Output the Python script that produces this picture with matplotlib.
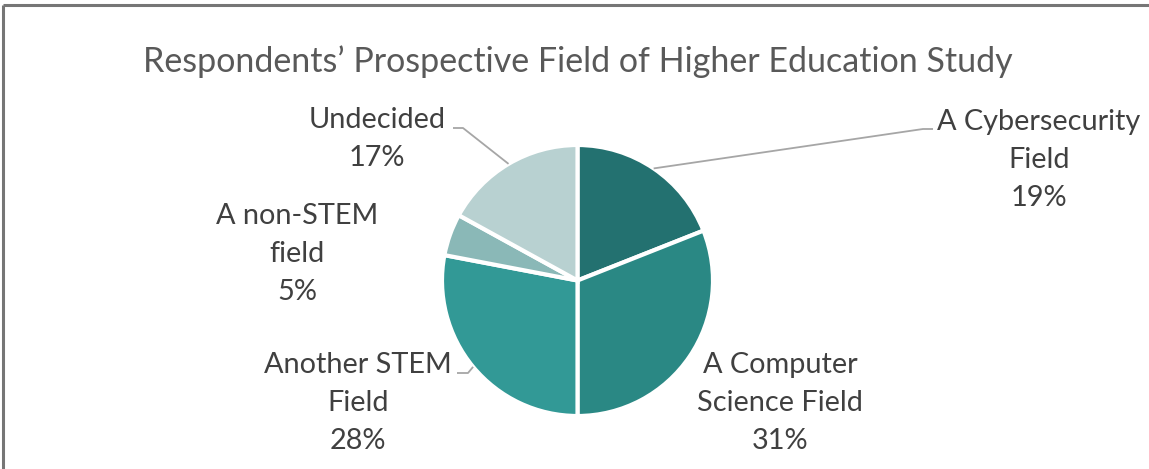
import numpy as np
import matplotlib
matplotlib.use("Agg")
import matplotlib.pyplot as plt

# ---- data ----
categories = ["A Cybersecurity\nField", "A Computer\nScience Field", "Another STEM\nField",
              "A non-STEM\nfield", "Undecided"]
values = [19, 31, 28, 5, 17]
colors = ["#237170", "#2A8884", "#329996", "#8AB8B7", "#B8D1D1"]
title = "Respondents\u2019 Prospective Field of Higher Education Study"

W, H = 1149, 469
fig = plt.figure(figsize=(W / 100, H / 100), dpi=100)
ax = fig.add_axes([0, 0, 1, 1])

FONT = "Lato"
cx, cy, R = 577.5, H - 280.5, 135.5

wedges, _ = ax.pie(values, colors=colors, startangle=90, counterclock=False,
                   center=(cx, cy), radius=R, frame=True,
                   wedgeprops=dict(edgecolor="white", linewidth=3))
ax.set_xlim(0, W)
ax.set_ylim(0, H)
ax.set_aspect("equal")
ax.axis("off")

# labels (layout positions in pixels from top-left)
label_pos = [(1039, 160), (780, 403), (358, 403), (297, 254), (377, 139)]
for cat, v, (px, py) in zip(categories, values, label_pos):
    ax.text(px, H - py, f"{cat}\n{v}%", ha="center", va="center",
            fontsize=20.8, family=FONT, color="#404040", linespacing=1.55)

# leader lines: start at wedge mid-angle on the rim
def rim_point(i):
    w = wedges[i]
    ang = np.deg2rad((w.theta1 + w.theta2) / 2)
    return cx + R * np.cos(ang), cy + R * np.sin(ang)

leaders = {0: [(923, 129), (933, 129)],
           4: [(463, 128), (453, 128)],
           2: [(468, 373), (457, 373)]}
for i, pts in leaders.items():
    x0, y0 = rim_point(i)
    xs = [x0] + [p[0] for p in pts]
    ys = [y0] + [H - p[1] for p in pts]
    ax.plot(xs, ys, color="#A6A6A6", lw=1.3, solid_capstyle="butt")

ax.text(577.5, H - 62, title, ha="center", va="center", fontsize=24.5,
        family=FONT, color="#595959")

# chart frame (top and left edges visible)
ax.plot([3, W], [H - 5, H - 5], color="#767676", lw=2.2, solid_capstyle="butt")
ax.plot([3, 3], [H - 5, 0], color="#767676", lw=2.2, solid_capstyle="butt")

fig.savefig("out.png", dpi=100)
